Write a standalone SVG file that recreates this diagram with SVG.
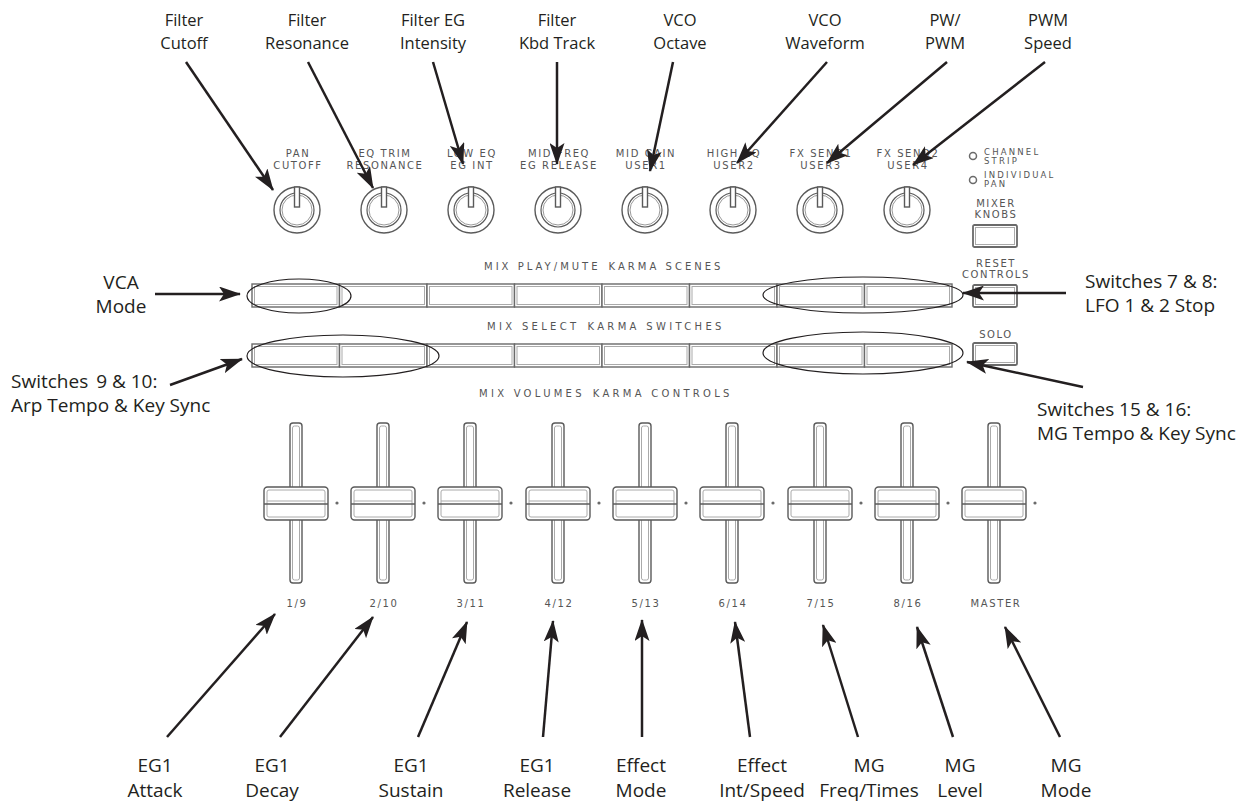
<svg xmlns="http://www.w3.org/2000/svg" xmlns:xlink="http://www.w3.org/1999/xlink" width="1242" height="804" viewBox="0 0 1242 804">
<style>
.lt{font-family:"Open Sans","Noto Sans",sans-serif;font-size:16.5px;fill:#231f20;text-anchor:middle}
.lb{font-family:"Open Sans","Noto Sans",sans-serif;font-size:19px;fill:#231f20;text-anchor:middle}
.ls{font-family:"Open Sans","Noto Sans",sans-serif;font-size:19px;fill:#231f20}
.pt{font-family:"DejaVu Sans",sans-serif;font-size:10px;letter-spacing:1.6px;fill:#555;text-anchor:middle}
.pts{font-family:"DejaVu Sans",sans-serif;font-size:8.5px;letter-spacing:2.2px;fill:#555}
.arr{fill:none;stroke:#231f20;stroke-width:2.5;marker-end:url(#ah)}
.ell{fill:none;stroke:#231f20;stroke-width:1.2}
.g1{fill:#fff;stroke:#5a5a5a;stroke-width:1.4}
.g2{fill:none;stroke:#aaa;stroke-width:1}
</style>
<defs>
<marker id="ah" viewBox="0 0 22 15" markerWidth="22" markerHeight="15" refX="21" refY="7.5" orient="auto" markerUnits="userSpaceOnUse">
<path d="M0,0 L22,7.5 L0,15 L5,7.5 z" fill="#231f20"/>
</marker>
<g id="knob">
<circle r="23" class="g1"/>
<circle r="17" fill="none" stroke="#5a5a5a" stroke-width="1.2"/>
<circle r="15" fill="none" stroke="#9a9a9a" stroke-width="1"/>
<rect x="-2.5" y="-23" width="5" height="20" class="g1" stroke-width="1.1"/>
</g>
<g id="btn">
<rect width="87.5" height="23" fill="#fff" stroke="#6a6a6a" stroke-width="1.4"/>
<rect x="2.5" y="2.5" width="82.5" height="18" class="g2"/>
</g>
<g id="sbtn">
<rect width="44" height="22" rx="1.5" fill="#fff" stroke="#6a6a6a" stroke-width="1.8"/>
<rect x="2.5" y="2.5" width="39" height="17" class="g2"/>
</g>
<g id="fader">
<rect x="-6" y="423" width="12" height="160" rx="3" class="g1"/>
<rect x="-3.5" y="426" width="7" height="154" rx="2" class="g2"/>
<rect x="-32" y="487" width="64" height="33" rx="3.5" class="g1" stroke-width="1.6"/>
<rect x="-29" y="490" width="58" height="27" rx="2" class="g2"/>
<line x1="-32" y1="504" x2="32" y2="504" stroke="#5a5a5a" stroke-width="1.3"/>
<line x1="-29" y1="501" x2="29" y2="501" stroke="#aaa" stroke-width="1"/>
<circle cx="41" cy="503" r="1.6" fill="#6a6a6a"/>
</g>
</defs>
<rect width="1242" height="804" fill="#fff"/>

<g id="top-labels">
<g id="lbl-filter-cutoff"><text class="lt" x="184" y="26">Filter</text><text class="lt" x="184" y="49">Cutoff</text></g>
<g id="lbl-filter-resonance"><text class="lt" x="307" y="26">Filter</text><text class="lt" x="307" y="49">Resonance</text></g>
<g id="lbl-filter-eg"><text class="lt" x="433" y="26">Filter EG</text><text class="lt" x="433" y="49">Intensity</text></g>
<g id="lbl-filter-kbd"><text class="lt" x="557" y="26">Filter</text><text class="lt" x="557" y="49">Kbd Track</text></g>
<g id="lbl-vco-octave"><text class="lt" x="680" y="26">VCO</text><text class="lt" x="680" y="49">Octave</text></g>
<g id="lbl-vco-waveform"><text class="lt" x="825" y="26">VCO</text><text class="lt" x="825" y="49">Waveform</text></g>
<g id="lbl-pw-pwm"><text class="lt" x="945" y="26">PW/</text><text class="lt" x="945" y="49">PWM</text></g>
<g id="lbl-pwm-speed"><text class="lt" x="1048" y="26">PWM</text><text class="lt" x="1048" y="49">Speed</text></g>
</g>

<g id="knobs">
<g id="knob1"><text class="pt" x="298" y="157">PAN</text><text class="pt" x="298" y="169">CUTOFF</text><use xlink:href="#knob" x="297" y="210"/></g>
<g id="knob2"><text class="pt" x="385" y="157">EQ TRIM</text><text class="pt" x="385" y="169">RESONANCE</text><use xlink:href="#knob" x="384" y="210"/></g>
<g id="knob3"><text class="pt" x="472" y="157">LOW EQ</text><text class="pt" x="472" y="169">EG INT</text><use xlink:href="#knob" x="471" y="210"/></g>
<g id="knob4"><text class="pt" x="559" y="157">MID FREQ</text><text class="pt" x="559" y="169">EG RELEASE</text><use xlink:href="#knob" x="558" y="210"/></g>
<g id="knob5"><text class="pt" x="646" y="157">MID GAIN</text><text class="pt" x="646" y="169">USER1</text><use xlink:href="#knob" x="645" y="210"/></g>
<g id="knob6"><text class="pt" x="734" y="157">HIGH EQ</text><text class="pt" x="734" y="169">USER2</text><use xlink:href="#knob" x="733" y="210"/></g>
<g id="knob7"><text class="pt" x="821" y="157">FX SEND1</text><text class="pt" x="821" y="169">USER3</text><use xlink:href="#knob" x="820" y="210"/></g>
<g id="knob8"><text class="pt" x="908" y="157">FX SEND2</text><text class="pt" x="908" y="169">USER4</text><use xlink:href="#knob" x="907" y="210"/></g>
</g>

<g id="right-panel">
<g id="led-channel-strip"><circle cx="973" cy="156" r="3.5" fill="#fff" stroke="#6a6a6a" stroke-width="1.5"/><text class="pts" x="984" y="155">CHANNEL</text><text class="pts" x="984" y="164">STRIP</text></g>
<g id="led-individual-pan"><circle cx="973" cy="180" r="3.5" fill="#fff" stroke="#6a6a6a" stroke-width="1.5"/><text class="pts" x="984" y="178">INDIVIDUAL</text><text class="pts" x="984" y="187">PAN</text></g>
<g id="btn-mixer-knobs"><text class="pt" x="996" y="207">MIXER</text><text class="pt" x="996" y="218">KNOBS</text><use xlink:href="#sbtn" x="973" y="225"/></g>
<g id="btn-reset-controls"><text class="pt" x="996" y="267">RESET</text><text class="pt" x="996" y="278">CONTROLS</text><use xlink:href="#sbtn" x="973" y="285"/></g>
<g id="btn-solo"><text class="pt" x="996" y="338">SOLO</text><use xlink:href="#sbtn" x="973" y="343"/></g>
</g>

<g id="row1">
<text class="pt" x="603" y="270" textLength="238" letter-spacing="0">MIX PLAY/MUTE<tspan dx="8">KARMA SCENES</tspan></text>
<use xlink:href="#btn" x="252" y="284"/><use xlink:href="#btn" x="339.5" y="284"/><use xlink:href="#btn" x="427" y="284"/><use xlink:href="#btn" x="514.5" y="284"/>
<use xlink:href="#btn" x="602" y="284"/><use xlink:href="#btn" x="689.5" y="284"/><use xlink:href="#btn" x="777" y="284"/><use xlink:href="#btn" x="864.5" y="284"/>
</g>
<g id="row2">
<text class="pt" x="605" y="330" textLength="236" letter-spacing="0">MIX SELECT<tspan dx="8">KARMA SWITCHES</tspan></text>
<use xlink:href="#btn" x="252" y="344"/><use xlink:href="#btn" x="339.5" y="344"/><use xlink:href="#btn" x="427" y="344"/><use xlink:href="#btn" x="514.5" y="344"/>
<use xlink:href="#btn" x="602" y="344"/><use xlink:href="#btn" x="689.5" y="344"/><use xlink:href="#btn" x="777" y="344"/><use xlink:href="#btn" x="864.5" y="344"/>
</g>
<text class="pt" x="605" y="397" textLength="252" letter-spacing="0">MIX VOLUMES<tspan dx="8">KARMA CONTROLS</tspan></text>

<g id="highlights">
<ellipse class="ell" cx="299" cy="296" rx="52" ry="17"/>
<ellipse class="ell" cx="343" cy="356" rx="96" ry="21"/>
<ellipse class="ell" cx="863" cy="295" rx="100" ry="18"/>
<ellipse class="ell" cx="863" cy="353" rx="100" ry="21"/>
</g>

<g id="faders">
<g id="fader1"><use xlink:href="#fader" x="296"/><text class="pt" x="297" y="607">1/9</text></g>
<g id="fader2"><use xlink:href="#fader" x="383"/><text class="pt" x="384" y="607">2/10</text></g>
<g id="fader3"><use xlink:href="#fader" x="470"/><text class="pt" x="471" y="607">3/11</text></g>
<g id="fader4"><use xlink:href="#fader" x="558"/><text class="pt" x="559" y="607">4/12</text></g>
<g id="fader5"><use xlink:href="#fader" x="645"/><text class="pt" x="646" y="607">5/13</text></g>
<g id="fader6"><use xlink:href="#fader" x="732"/><text class="pt" x="733" y="607">6/14</text></g>
<g id="fader7"><use xlink:href="#fader" x="820"/><text class="pt" x="821" y="607">7/15</text></g>
<g id="fader8"><use xlink:href="#fader" x="907"/><text class="pt" x="908" y="607">8/16</text></g>
<g id="fader-master"><use xlink:href="#fader" x="994"/><text class="pt" x="996" y="607">MASTER</text></g>
</g>

<g id="side-labels">
<g id="lbl-vca-mode"><text class="lb" x="121" y="289">VCA</text><text class="lb" x="121" y="313">Mode</text></g>
<g id="lbl-sw9-10"><text class="ls" x="11" y="388">Switches <tspan dx="3">9 &amp; 10:</tspan></text><text class="ls" x="11" y="412">Arp Tempo &amp; Key Sync</text></g>
<g id="lbl-sw7-8"><text class="ls" x="1085" y="288">Switches 7 &amp; 8:</text><text class="ls" x="1085" y="312">LFO 1 &amp; 2 Stop</text></g>
<g id="lbl-sw15-16"><text class="ls" x="1037" y="416">Switches 15 &amp; 16:</text><text class="ls" x="1037" y="440">MG Tempo &amp; Key Sync</text></g>
</g>

<g id="bottom-labels">
<g id="lbl-eg1-attack"><text class="lb" x="155" y="772">EG1</text><text class="lb" x="155" y="797">Attack</text></g>
<g id="lbl-eg1-decay"><text class="lb" x="272" y="772">EG1</text><text class="lb" x="272" y="797">Decay</text></g>
<g id="lbl-eg1-sustain"><text class="lb" x="411" y="772">EG1</text><text class="lb" x="411" y="797">Sustain</text></g>
<g id="lbl-eg1-release"><text class="lb" x="537" y="772">EG1</text><text class="lb" x="537" y="797">Release</text></g>
<g id="lbl-effect-mode"><text class="lb" x="641" y="772">Effect</text><text class="lb" x="641" y="797">Mode</text></g>
<g id="lbl-effect-int"><text class="lb" x="762" y="772">Effect</text><text class="lb" x="762" y="797">Int/Speed</text></g>
<g id="lbl-mg-freq"><text class="lb" x="869" y="772">MG</text><text class="lb" x="869" y="797">Freq/Times</text></g>
<g id="lbl-mg-level"><text class="lb" x="960" y="772">MG</text><text class="lb" x="960" y="797">Level</text></g>
<g id="lbl-mg-mode"><text class="lb" x="1066" y="772">MG</text><text class="lb" x="1066" y="797">Mode</text></g>
</g>

<g id="connectors">
<line class="arr" x1="186" y1="62" x2="273" y2="190"/>
<line class="arr" x1="308" y1="62" x2="373" y2="188"/>
<line class="arr" x1="433" y1="62" x2="463" y2="164"/>
<line class="arr" x1="557" y1="62" x2="557" y2="164"/>
<line class="arr" x1="673" y1="62" x2="650" y2="171"/>
<line class="arr" x1="827" y1="62" x2="737" y2="163"/>
<line class="arr" x1="947" y1="62" x2="827" y2="163"/>
<line class="arr" x1="1045" y1="62" x2="913" y2="165"/>
<line class="arr" x1="155" y1="294" x2="240" y2="294"/>
<line class="arr" x1="170" y1="385" x2="242" y2="359"/>
<line class="arr" x1="1066" y1="293" x2="963" y2="293"/>
<line class="arr" x1="1083" y1="387" x2="967" y2="362"/>
<line class="arr" x1="167" y1="737" x2="275" y2="614"/>
<line class="arr" x1="280" y1="737" x2="373" y2="617"/>
<line class="arr" x1="418" y1="737" x2="467" y2="622"/>
<line class="arr" x1="543" y1="737" x2="553" y2="621"/>
<line class="arr" x1="642" y1="737" x2="642" y2="620"/>
<line class="arr" x1="750" y1="737" x2="735" y2="622"/>
<line class="arr" x1="858" y1="737" x2="823" y2="625"/>
<line class="arr" x1="953" y1="737" x2="917" y2="627"/>
<line class="arr" x1="1060" y1="737" x2="1005" y2="627"/>
</g>
</svg>
